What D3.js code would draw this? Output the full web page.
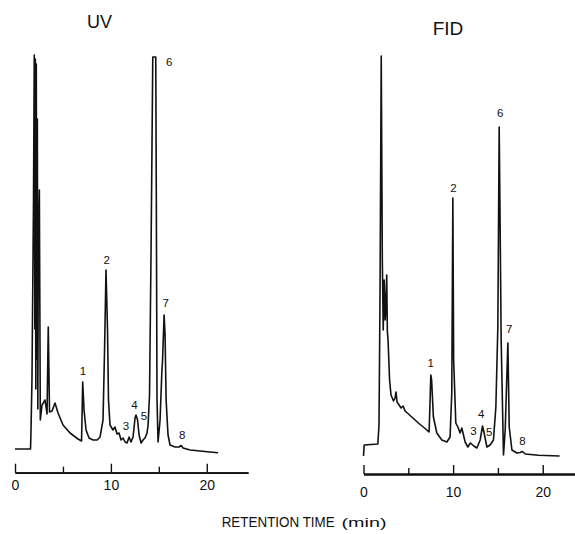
<!DOCTYPE html>
<html lang="en">
<head>
    <meta charset="UTF-8">
    <script src="https://cdn.jsdelivr.net/npm/d3@7"></script>
    <title>UV / FID chromatograms</title>
    <style>
        body { margin: 0; background: #fff; }
        svg text { font-family: "Liberation Sans", Arial, sans-serif; fill: #111; }
    </style>
</head>
<body>
    <div id="chart"></div>

    <script>
        // retention time (min) and detector response (arbitrary units)
        const uvTime = [0, 1.62, 1.67, 1.77, 1.93, 2.01, 2.07, 2.12, 2.17, 2.22, 2.28, 2.33, 2.38,
            2.43, 2.54, 2.64, 2.82, 3.13,
            3.34, 3.47, 3.60, 3.86, 4.17, 4.49, 5.01, 5.74, 6.57, 6.94, 7.06, 7.20, 7.41, 7.72, 8.14,
            8.56, 8.87, 9.18, 9.34, 9.49, 9.65, 9.75, 9.91, 10.22, 10.43, 10.64, 10.85, 11.06, 11.27,
            11.48, 11.69, 11.90, 12.10, 12.31, 12.52, 12.62, 12.78, 12.94, 13.15, 13.35, 13.56, 13.77,
            13.88, 14.03, 14.19, 14.37, 14.68, 14.74, 14.81, 14.92, 15.13, 15.31, 15.39, 15.55, 15.65,
            15.76, 15.96, 16.17, 16.69, 17.11, 17.32, 17.53, 18.26, 19.30, 20.34, 21.18];
        const uvSignal = [0, 0, 19, 69, 249, 394, 120, 390, 60, 385, 90, 330, 40,
            200, 259, 29, 44, 49,
            35, 122, 37, 38, 46, 36, 24, 16, 10, 8, 67, 39, 19, 11, 9,
            9, 12, 29, 99, 179, 119, 49, 24, 19, 22, 15, 16, 9, 11,
            7, 6, 12, 7, 12, 31, 34, 29, 14, 6, 9, 11, 16,
            24, 54, 199, 392, 392, 249, 49, 7, 29, 76, 89, 134, 114,
            49, 14, 4, 2, 2, 3.5, 1, -1, -2, -3, -3.7];

        const fidTime = [0, 0.08, 1.60, 1.73, 1.84, 1.98, 2.10, 2.20, 2.31, 2.42, 2.50, 2.59, 2.66,
            2.74, 2.91,
            3.07, 3.35, 3.52, 3.63, 3.74, 3.97, 4.19, 4.41, 4.64, 5.39, 6.12, 6.87, 7.32, 7.43, 7.51,
            7.60, 7.80, 8.18, 8.74, 9.30, 9.66, 9.85, 9.97, 10.06, 10.30, 10.53, 10.78, 10.97, 11.34,
            11.64, 11.93, 12.31, 12.65, 13.02, 13.28, 13.46, 13.77, 14.13, 14.50, 14.77, 14.99, 15.14,
            15.25, 15.36, 15.62, 15.81, 16.11, 16.26, 16.56, 17.12, 17.49, 17.74, 18.04, 19.53, 21.88];
        const fidSignal = [0, 11, 12, 31, 156, 400, 196, 126, 176, 136, 150, 181, 125,
            116, 76,
            61, 55, 58, 64, 54, 51, 48, 50, 45, 39, 33, 27.5, 24, 56, 81,
            76, 39, 23, 16, 14, 19, 63, 258, 96, 33, 29, 23, 28, 14,
            9, 13, 10, 8, 16, 30, 23, 9, 11, 16, 49, 129, 329,
            226, 116, 1, 26, 113, 29, 6, 3, 3.5, 4.5, 2, 0.7, 0];

        // peak numbers and where each number is written (time, response at text baseline)
        const peakIds = ["1", "2", "3", "4", "5", "6", "7", "8"];
        const uvLabelTime = [7.09, 9.57, 11.58, 12.45, 13.46, 16.07, 15.72, 17.45];
        const uvLabelLevel = [74, 185.5, 19, 40.5, 29, 383, 142.3, 9.7];
        const fidLabelTime = [7.51, 10.03, 12.27, 13.13, 14.02, 15.25, 16.26, 17.74];
        const fidLabelLevel = [89.3, 264.3, 21, 37.7, 20.3, 339.3, 122.7, 11];

        const majorTicks = [0, 10, 20];
        const minorTicks = [5, 15];

        /*------------------- layout --------------------*/
        const width = 575, height = 534;

        const svg = d3.select("#chart").append("svg")
            .attr("width", width)
            .attr("height", height);

        const panels = [
            {
                title: "UV", titleX: 99.5, titleY: 28, titleSize: 18,
                time: uvTime, signal: uvSignal,
                labelTime: uvLabelTime, labelLevel: uvLabelLevel,
                xDomain: [0, 24.3], xRange: [15, 248],
                yDomain: [0, 396], yRange: [449, 53],
                axisY: 472.7, tickPad: 7
            },
            {
                title: "FID", titleX: 448, titleY: 35, titleSize: 19,
                time: fidTime, signal: fidSignal,
                labelTime: fidLabelTime, labelLevel: fidLabelLevel,
                xDomain: [0, 23.6], xRange: [363.5, 575],
                yDomain: [0, 400], yRange: [456, 56],
                axisY: 474, tickPad: 13
            }
        ];

        const drawPanel = (p) => {
            const g = svg.append("g");

            const x = d3.scaleLinear().domain(p.xDomain).range(p.xRange);
            const y = d3.scaleLinear().domain(p.yDomain).range(p.yRange);

            // trace
            const points = p.time.map((t, i) => [t, p.signal[i]]);
            const line = d3.line()
                .x(d => x(d[0]))
                .y(d => y(d[1]));

            g.append("path")
                .datum(points)
                .attr("d", line)
                .attr("fill", "none")
                .attr("stroke", "#111")
                .attr("stroke-width", 1.6)
                .attr("stroke-linejoin", "round");

            // time axis, ticks pointing up
            const axisMinor = d3.axisBottom(x)
                .tickValues(minorTicks)
                .tickSize(-6)
                .tickSizeOuter(0)
                .tickFormat("");

            const axisMajor = d3.axisBottom(x)
                .tickValues(majorTicks)
                .tickSize(-9)
                .tickSizeOuter(0)
                .tickPadding(p.tickPad)
                .tickFormat(d3.format("d"));

            [axisMinor, axisMajor].forEach(ax => {
                const a = g.append("g")
                    .attr("transform", `translate(0,${p.axisY})`)
                    .call(ax);
                a.select(".domain").attr("stroke", "#111").attr("stroke-width", 1.8);
                a.selectAll(".tick line").attr("stroke", "#111").attr("stroke-width", 1.4);
                a.selectAll(".tick text")
                    .attr("fill", "#111")
                    .style("font-size", "14px")
                    .style("font-family", "'Liberation Sans', Arial, sans-serif");
            });

            // peak numbers
            g.selectAll("text.peak")
                .data(peakIds)
                .enter()
                .append("text")
                .attr("class", "peak")
                .attr("x", (d, i) => x(p.labelTime[i]))
                .attr("y", (d, i) => y(p.labelLevel[i]))
                .attr("text-anchor", "middle")
                .style("font-size", "11.5px")
                .text(d => d);

            // detector title
            g.append("text")
                .attr("x", p.titleX)
                .attr("y", p.titleY)
                .attr("text-anchor", "middle")
                .style("font-size", p.titleSize + "px")
                .text(p.title);
        };

        panels.forEach(drawPanel);

        // shared x-axis title
        svg.append("text")
            .attr("x", 221.7)
            .attr("y", 526.7)
            .attr("textLength", 113)
            .attr("lengthAdjust", "spacingAndGlyphs")
            .style("font-size", "14px")
            .text("RETENTION TIME");

        svg.append("text")
            .attr("x", 341.5)
            .attr("y", 526.7)
            .attr("textLength", 45)
            .attr("lengthAdjust", "spacingAndGlyphs")
            .style("font-size", "13px")
            .text("(min)");
    </script>
</body>
</html>
